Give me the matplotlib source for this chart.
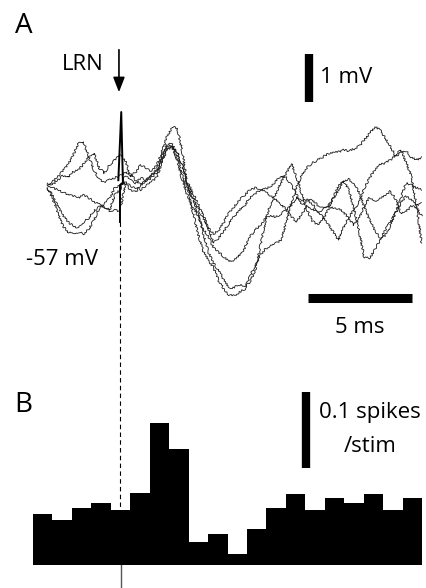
import numpy as np
import matplotlib
matplotlib.use("Agg")
import matplotlib.pyplot as plt

plt.rcParams['font.family'] = ['Open Sans', 'DejaVu Sans']

# ---------------------------------------------------------------
# Panel A: membrane potential traces (mV), sampled every 0.25 ms
# ---------------------------------------------------------------
t_ms = np.arange(-3.5, 14.51, 0.25)

trace_1 = [-57.00, -56.94, -56.83, -56.71, -56.58, -56.38, -56.13, -56.10, -56.42, -56.69,
           -56.88, -56.96, -56.88, -56.85, -56.81, -56.73, -56.77, -56.90, -57.00, -56.90,
           -56.81, -56.69, -56.42, -56.17, -56.13, -56.33, -56.60, -56.94, -57.17, -57.38,
           -57.63, -57.90, -58.21, -58.10, -57.96, -57.79, -57.65, -57.52, -57.42, -57.27,
           -57.19, -57.10, -57.08, -57.02, -56.92, -56.81, -56.85, -57.02, -57.21, -57.40,
           -57.33, -57.31, -57.42, -57.46, -57.46, -57.48, -57.50, -57.56, -57.71, -57.83,
           -57.69, -57.42, -57.27, -57.33, -57.29, -57.21, -57.13, -57.29, -57.60, -57.56,
           -57.44, -57.46, -57.65]
trace_2 = [-56.96, -57.00, -56.90, -56.81, -56.85, -56.73, -56.69, -56.56, -56.42, -56.33,
           -56.65, -56.75, -56.58, -56.48, -56.38, -56.48, -56.83, -56.73, -56.58, -56.65,
           -56.73, -56.60, -56.33, -56.00, -55.79, -55.81, -56.31, -57.04, -57.56, -58.02,
           -58.38, -58.56, -58.73, -59.00, -59.17, -59.29, -59.31, -59.23, -59.17, -58.90,
           -58.67, -58.46, -58.33, -58.25, -58.21, -58.15, -57.77, -57.35, -57.04, -56.79,
           -56.63, -56.54, -56.48, -56.42, -56.35, -56.33, -56.31, -56.27, -56.29, -56.25,
           -56.19, -56.06, -55.92, -55.79, -55.85, -56.02, -56.19, -56.40, -56.33, -56.29,
           -56.42, -56.48, -56.42]
trace_3 = [-57.06, -57.27, -57.58, -57.85, -57.98, -58.02, -57.98, -58.02, -57.92, -57.73,
           -57.48, -57.40, -57.27, -57.06, -57.00, -56.94, -57.02, -57.06, -57.10, -57.02,
           -56.94, -56.85, -56.56, -56.27, -56.19, -56.31, -56.60, -56.98, -57.27, -57.60,
           -58.00, -58.40, -58.63, -58.79, -58.98, -59.15, -59.13, -59.08, -59.13, -59.02,
           -58.77, -58.27, -57.73, -57.38, -57.19, -56.94, -56.75, -56.56, -56.85, -57.21,
           -57.52, -57.75, -57.83, -57.73, -57.52, -57.27, -57.02, -56.92, -57.10, -57.48,
           -57.98, -58.52, -58.52, -58.35, -58.15, -57.94, -57.77, -57.58, -57.27, -56.96,
           -57.00, -57.06, -57.10]
trace_4 = [-57.06, -57.21, -57.44, -57.63, -57.77, -57.85, -57.90, -57.77, -57.69, -57.54,
           -57.46, -57.44, -57.54, -57.52, -57.56, -56.96, -57.10, -57.15, -57.00, -56.94,
           -56.85, -56.75, -56.48, -56.19, -56.17, -56.48, -56.90, -57.23, -57.46, -57.65,
           -57.90, -58.08, -58.31, -58.40, -58.50, -58.60, -58.56, -58.46, -58.31, -58.08,
           -57.94, -57.83, -57.69, -57.63, -57.67, -57.60, -57.52, -57.42, -57.25, -57.31,
           -57.31, -57.40, -57.54, -57.67, -57.81, -57.98, -58.15, -57.88, -57.67, -57.52,
           -57.35, -57.06, -56.85, -56.69, -56.58, -56.54, -56.48, -56.38, -56.27, -56.52,
           -56.81, -57.42, -58.21]
trace_5 = [-57.00, -57.06, -57.10, -57.15, -57.21, -57.23, -57.27, -57.21, -57.27, -57.35,
           -57.40, -57.46, -57.52, -57.21, -57.10, -56.81, -56.90, -56.96, -56.85, -56.90,
           -56.79, -56.73, -56.52, -56.27, -56.21, -56.44, -56.81, -57.06, -57.27, -57.48,
           -57.69, -57.90, -58.02, -57.94, -57.77, -57.56, -57.44, -57.31, -57.21, -57.10,
           -57.06, -57.08, -57.15, -57.23, -57.31, -57.40, -57.52, -57.67, -57.77, -57.58,
           -57.44, -57.50, -57.56, -57.52, -57.44, -57.29, -57.10, -56.92, -56.88, -56.96,
           -57.17, -57.46, -57.73, -57.94, -58.10, -58.06, -57.85, -57.58, -57.38, -57.23,
           -57.31, -57.42, -57.38]
traces = [trace_1, trace_2, trace_3, trace_4, trace_5]

# stimulus artifact (shared by all sweeps)
artifact_t = [-0.08, 0.06, 0.14, 0.0, 0.0]
artifact_v = [-56.90, -55.48, -56.95, -57.00, -57.77]

# ---------------------------------------------------------------
# Panel B: PSTH, 1 ms bins (spikes / stim)
# ---------------------------------------------------------------
bin_edges = np.arange(-4.5, 15.6, 1.0)
psth = [0.068, 0.059, 0.075, 0.082, 0.072, 0.095, 0.187, 0.153, 0.031, 0.041,
        0.015, 0.048, 0.075, 0.094, 0.072, 0.089, 0.082, 0.094, 0.072, 0.089]

fig = plt.figure(figsize=(4.27, 5.88), dpi=100)

# both panels share the full figure; limits chosen to place them
axA = fig.add_axes([0, 0, 1, 1])
axA.set_xlim(-5.769, 14.760)
axA.set_ylim(-65.396, -53.146)
axA.axis('off')

axB = fig.add_axes([0, 0, 1, 1])
axB.set_xlim(-6.197, 15.757)
axB.set_ylim(-0.0304, 0.7464)
axB.axis('off')
axB.patch.set_visible(False)

for v in traces:
    n = min(len(t_ms), len(v))
    line, = axA.plot(t_ms[:n], v[:n], color='#1a1a1a', lw=0.6)
    # rough, recording-like stroke
    line.set_sketch_params(scale=1.0, length=3, randomness=4)
axA.plot(artifact_t, artifact_v, color='black', lw=1.4)

# dashed stimulus marker running down into panel B
axA.plot([0, 0], [-57.77, -64.9], color='black', lw=0.8, ls=(0, (4, 3)))

# arrow + label
axA.annotate('', xy=(-0.05, -55.125), xytext=(-0.05, -54.125),
             arrowprops=dict(arrowstyle='-|>,head_length=0.9,head_width=0.35',
                             color='black', lw=1.2))
axA.text(-0.8, -54.48, 'LRN', ha='right', va='center', fontsize=16)

# scale bars
axA.plot([9.09, 9.09], [-54.27, -55.27], color='black', lw=6, solid_capstyle='butt')
axA.text(9.62, -54.77, '1 mV', ha='left', va='center', fontsize=16)
axA.plot([9.05, 14.05], [-59.35, -59.35], color='black', lw=6.5, solid_capstyle='butt')
axA.text(11.54, -59.96, '5 ms', ha='center', va='center', fontsize=16)
axA.text(-4.5, -58.56, '-57 mV', ha='left', va='center', fontsize=16)

# histogram
axB.stairs(psth, bin_edges, fill=True, color='black', zorder=3)
axB.plot([0, 0], [0, -0.04], color='#555555', lw=1.0)
axB.plot([9.54, 9.54], [0.128, 0.228], color='black', lw=6, solid_capstyle='butt')
axB.text(12.83, 0.201, '0.1 spikes', ha='center', va='center', fontsize=16)
axB.text(12.83, 0.156, '/stim', ha='center', va='center', fontsize=16)

fig.text(15 / 427, 1 - 33 / 588, 'A', fontsize=20, va='baseline')
fig.text(14 / 427, 1 - 412 / 588, 'B', fontsize=20, va='baseline')

fig.savefig('out.png', dpi=100)
